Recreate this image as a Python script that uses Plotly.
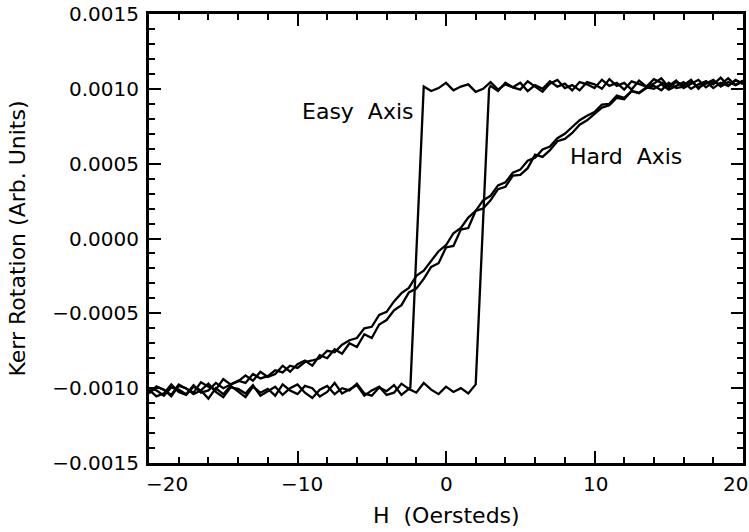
import plotly.graph_objects as go

# Field values (Oe) and Kerr rotation values (micro-units, i.e. x 1e-6 arb. units)
# ---- Easy axis loop ----
easy_up_H = [-20.0, -19.5, -19.0, -18.5, -18.0, -17.5, -17.0, -16.5, -16.0, -15.5, -15.0, -14.5, -14.0,
             -13.5, -13.0, -12.5, -12.0, -11.5, -11.0, -10.5, -10.0, -9.5, -9.0, -8.5, -8.0, -7.5, -7.0,
             -6.5, -6.0, -5.5, -5.0, -4.5, -4.0, -3.5, -3.0, -2.5, -2.0, -1.5, -1.0, -0.5, 0.0, 0.5, 1.0,
             1.5, 2.0, 2.9, 3.0, 3.5, 4.0, 4.5, 5.0, 5.5, 6.0, 6.5, 7.0, 7.5, 8.0, 8.5, 9.0, 9.5, 10.0,
             10.5, 11.0, 11.5, 12.0, 12.5, 13.0, 13.5, 14.0, 14.5, 15.0, 15.5, 16.0, 16.5, 17.0, 17.5,
             18.0, 18.5, 19.0, 19.5, 20.0]
easy_up_K = [-1030, -990, -1010, -1055, -985, -1000, -1040, -1015, -970, -1025, -1060, -995, -1005,
             -1035, -980, -1050, -1020, -990, -1045, -1000, -975, -1030, -1065, -1010, -985, -1040,
             -1000, -1015, -970, -1035, -1050, -995, -1020, -980, -1045, -1005, -1030, -965, -1010,
             -1040, -990, -1025, -1000, -1035, -975,
             1000,
             1020, 985, 1040, 1010, 995, 1050, 1015, 980, 1035, 1060, 1005, 1025, 990, 1045, 1030, 1000,
             1065, 1020, 1040, 995, 1055, 1015, 1035, 1070, 1010, 1045, 1025, 1060, 1000, 1050, 1030,
             1075, 1020, 1055, 1040]

easy_down_H = [20.0, 19.5, 19.0, 18.5, 18.0, 17.5, 17.0, 16.5, 16.0, 15.5, 15.0, 14.5, 14.0, 13.5, 13.0,
               12.5, 12.0, 11.5, 11.0, 10.5, 10.0, 9.5, 9.0, 8.5, 8.0, 7.5, 7.0, 6.5, 6.0, 5.5, 5.0, 4.5,
               4.0, 3.5, 3.0, 2.5, 2.0, 1.5, 1.0, 0.5, 0.0, -0.5, -1.0, -1.5, -2.4, -2.5, -3.0, -3.5,
               -4.0, -4.5, -5.0, -5.5, -6.0, -6.5, -7.0, -7.5, -8.0, -8.5, -9.0, -9.5, -10.0, -10.5,
               -11.0, -11.5, -12.0, -12.5, -13.0, -13.5, -14.0, -14.5, -15.0, -15.5, -16.0, -16.5,
               -17.0, -17.5, -18.0, -18.5, -19.0, -19.5, -20.0]
easy_down_K = [1050, 1025, 1070, 1030, 1045, 1010, 1060, 1035, 1005, 1055, 1020, 1040, 1065, 1015, 1030,
               1050, 995, 1040, 1020, 1060, 1005, 1030, 1045, 990, 1035, 1015, 1050, 1000, 1025, 985,
               1040, 1010, 1030, 995, 1045, 1000, 980, 1030, 1015, 990, 1040, 1005, 985, 1015,
               -995,
               -1005, -970, -1030, -1045, -990, -1015, -1050, -980, -1010, -1035, -965, -1025, -1055,
               -1000, -985, -1040, -1015, -975, -1050, -1005, -1030, -990, -1060, -1020, -985, -1040,
               -1000, -1070, -1015, -990, -1045, -1025, -975, -1035, -1055, -1010]

# ---- Hard axis (two sweeps) ----
hard_up_H = [-20.0, -19.5, -19.0, -18.5, -18.0, -17.5, -17.0, -16.5, -16.0, -15.5, -15.0, -14.5, -14.0,
             -13.5, -13.0, -12.5, -12.0, -11.5, -11.0, -10.5, -10.0, -9.5, -9.0, -8.5, -8.0, -7.5, -7.0,
             -6.5, -6.0, -5.5, -5.0, -4.5, -4.0, -3.5, -3.0, -2.5, -2.0, -1.5, -1.0, -0.5, 0.0, 0.5, 1.0,
             1.5, 2.0, 2.5, 3.0, 3.5, 4.0, 4.5, 5.0, 5.5, 6.0, 6.5, 7.0, 7.5, 8.0, 8.5, 9.0, 9.5, 10.0,
             10.5, 11.0, 11.5, 12.0, 12.5, 13.0, 13.5, 14.0, 14.5, 15.0, 15.5, 16.0, 16.5, 17.0, 17.5,
             18.0, 18.5, 19.0, 19.5, 20.0]
hard_up_K = [-1035, -990, -1010, -1045, -975, -1000, -1030, -960, -990, -1010, -940, -975, -955, -915,
             -950, -890, -925, -905, -850, -890, -840, -815, -850, -780, -800, -740, -770, -700, -725,
             -640, -665, -575, -545, -480, -445, -360, -335, -270, -190, -165, -60, -50, 60, 70, 185,
             200, 255, 330, 345, 420, 425, 470, 560, 545, 590, 650, 665, 705, 760, 790, 830, 875, 890,
             940, 930, 985, 970, 1005, 1020, 990, 1040, 1005, 1015, 1050, 1010, 1035, 1060, 1015, 1045,
             1025, 1055]

hard_down_H = [20.0, 19.5, 19.0, 18.5, 18.0, 17.5, 17.0, 16.5, 16.0, 15.5, 15.0, 14.5, 14.0, 13.5, 13.0,
               12.5, 12.0, 11.5, 11.0, 10.5, 10.0, 9.5, 9.0, 8.5, 8.0, 7.5, 7.0, 6.5, 6.0, 5.5, 5.0, 4.5,
               4.0, 3.5, 3.0, 2.5, 2.0, 1.5, 1.0, 0.5, 0.0, -0.5, -1.0, -1.5, -2.0, -2.5, -3.0, -3.5,
               -4.0, -4.5, -5.0, -5.5, -6.0, -6.5, -7.0, -7.5, -8.0, -8.5, -9.0, -9.5, -10.0, -10.5,
               -11.0, -11.5, -12.0, -12.5, -13.0, -13.5, -14.0, -14.5, -15.0, -15.5, -16.0, -16.5,
               -17.0, -17.5, -18.0, -18.5, -19.0, -19.5, -20.0]
hard_down_K = [1030, 1060, 1020, 1040, 1005, 1050, 1030, 1000, 1045, 1020, 995, 1030, 1000, 1010, 975,
               985, 940, 955, 900, 895, 845, 820, 790, 745, 700, 670, 615, 595, 540, 520, 460, 440, 375,
               355, 285, 255, 185, 140, 70, 35, -45, -85, -150, -215, -250, -330, -365, -420, -490,
               -510, -590, -600, -665, -680, -710, -760, -750, -800, -815, -825, -865, -850, -895, -880,
               -920, -935, -905, -965, -950, -975, -1000, -965, -1015, -1030, -980, -1040, -1010, -995,
               -1050, -1015, -1000]

K_UNIT = 1e-6  # values above are in micro-units

x_tickvals = [-20, -10, 0, 10, 20]
x_ticktext = ["\u221220", "\u221210", "0", "10", "20"]
x_label_shift = [18, 4, 0, 1, -8]   # pixel nudges of the x tick labels (edge labels sit inside)
y_tickvals = [-0.0015, -0.0010, -0.0005, 0.0, 0.0005, 0.0010, 0.0015]

labels = {"easy": "Easy\u00a0 Axis", "hard": "Hard\u00a0 Axis"}
label_pos = {"easy": (-5.9, 0.00085), "hard": (12.15, 0.00055)}

line_style = dict(color="black", width=2.3)

fig = go.Figure()
for H, K in [(easy_up_H, easy_up_K), (easy_down_H, easy_down_K),
             (hard_up_H, hard_up_K), (hard_down_H, hard_down_K)]:
    fig.add_trace(go.Scatter(x=H, y=[k * K_UNIT for k in K], mode="lines",
                             line=line_style, showlegend=False, hoverinfo="skip"))

for key in ["easy", "hard"]:
    fig.add_annotation(x=label_pos[key][0], y=label_pos[key][1], text=labels[key],
                       showarrow=False, font=dict(family="DejaVu Sans", size=22, color="black"),
                       xanchor="center", yanchor="middle")

# x tick labels
for v, t, s in zip(x_tickvals, x_ticktext, x_label_shift):
    fig.add_annotation(x=v, xref="x", y=0, yref="paper", text=t, showarrow=False,
                       xanchor="center", yanchor="middle", xshift=s, yshift=-21,
                       font=dict(family="DejaVu Sans", size=20, color="black"))

# x axis title
fig.add_annotation(x=0.5, xref="paper", y=0, yref="paper", text="H\u00a0 (Oersteds)",
                   showarrow=False, xanchor="center", yanchor="middle", yshift=-52,
                   font=dict(family="DejaVu Sans", size=22, color="black"))

axis_common = dict(
    showline=True, linecolor="black", linewidth=3, mirror="ticks",
    ticks="inside", tickcolor="black", tickwidth=2, ticklen=12,
    showgrid=False, zeroline=False, automargin=False,
    tickfont=dict(family="DejaVu Sans", size=20, color="black"),
)

fig.update_layout(
    width=749, height=532,
    margin=dict(l=149, r=6, t=14, b=69),
    paper_bgcolor="white", plot_bgcolor="white",
    font=dict(family="DejaVu Sans", color="black"),
    xaxis=dict(
        range=[-20, 20], tickvals=x_tickvals, showticklabels=False,
        minor=dict(dtick=2, ticks="inside", ticklen=6, tickcolor="black", tickwidth=2, showgrid=False),
        **axis_common,
    ),
    yaxis=dict(
        range=[-0.0015, 0.0015], tickvals=y_tickvals, tickformat=".4f",
        minor=dict(dtick=0.0001, ticks="inside", ticklen=6, tickcolor="black", tickwidth=2, showgrid=False),
        title=dict(text="Kerr Rotation (Arb. Units)", font=dict(family="DejaVu Sans", size=22, color="black"), standoff=21),
        ticklabelstandoff=3,
        **axis_common,
    ),
)

fig.write_html("out.html")
